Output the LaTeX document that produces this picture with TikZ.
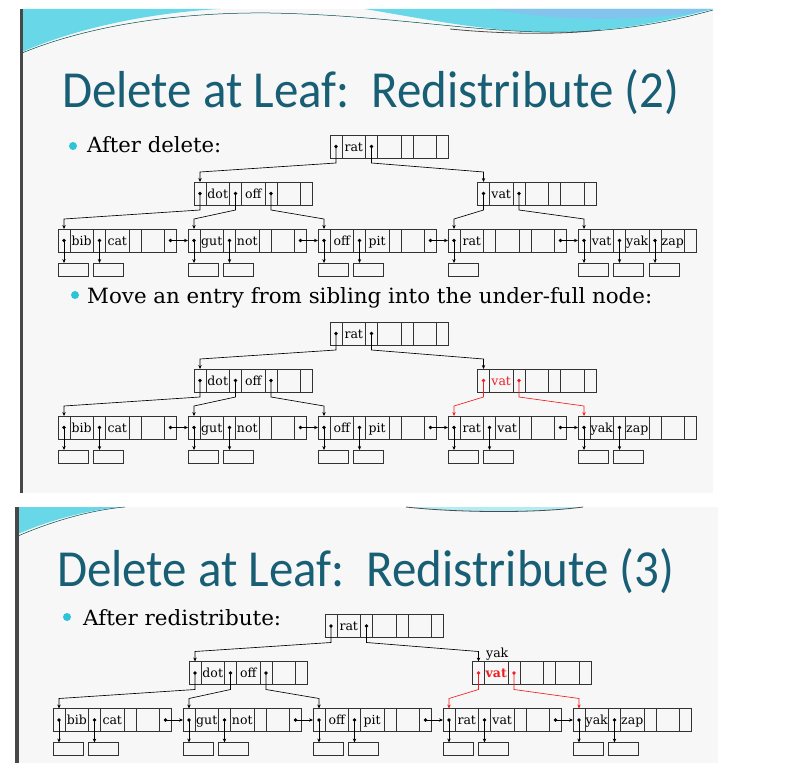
\documentclass[tikz,border=0pt]{standalone}
\usepackage{fontspec}
\usepackage{graphicx}
\newfontfamily\titlefont{Carlito}
\newfontfamily\textserif{DejaVu Serif}
\usetikzlibrary{calc,arrows.meta}
\definecolor{titleteal}{RGB}{24,94,117}
\definecolor{bulletcyan}{RGB}{44,196,214}
\definecolor{slidebg}{RGB}{247,247,247}
\definecolor{wavecyan}{RGB}{104,216,232}
\definecolor{waveblue}{RGB}{130,196,238}
\definecolor{borderdark}{RGB}{72,72,72}
\definecolor{ptrred}{RGB}{240,30,30}
\newcommand\fitto[2]{\resizebox{#1}{\height}{#2}}
\tikzset{
  bpbox/.style={draw=black!80, line width=0.7pt, minimum width=118.5pt, minimum height=23pt, inner sep=0pt, outer sep=0pt, anchor=north west},
  cellline/.style={draw=black!80, line width=0.7pt},
  recbox/.style={draw=black!80, line width=0.7pt, minimum width=30pt, minimum height=13pt, inner sep=0pt, outer sep=0pt, anchor=north west},
  keytext/.style={font=\textserif\fontsize{12.5}{12.5}\selectfont, inner sep=0pt, anchor=base},
  ptrline/.style={line width=0.65pt, -{Stealth[length=4pt,width=3.4pt]}},
  bullettext/.style={font=\textserif\fontsize{21}{21}\selectfont, inner sep=0pt, anchor=base west},
  titletext/.style={text=titleteal, inner sep=0pt, anchor=base west},
}
\newcommand\bpnode[6]{%
  \pgfmathsetmacro\bpX{#2}\pgfmathsetmacro\bpY{#3}%
  \node[bpbox] (#1) at (\bpX,\bpY) {};
  \foreach \d in {12,35.5,47.5,71,83,106.5}
    \draw[cellline] (\bpX+\d,\bpY) -- (\bpX+\d,\bpY+23);
  \coordinate (#1-p0) at (\bpX+6,\bpY+11.5);
  \coordinate (#1-p1) at (\bpX+41.5,\bpY+11.5);
  \coordinate (#1-p2) at (\bpX+77,\bpY+11.5);
  \coordinate (#1-p3) at (\bpX+112.5,\bpY+11.5);
  \node[keytext] (#1-k1) at (\bpX+23.75,\bpY+16) {#4};
  \node[keytext] (#1-k2) at (\bpX+59.25,\bpY+16) {#5};
  \node[keytext] (#1-k3) at (\bpX+94.75,\bpY+16) {#6};
}
\newcommand\iptr[4][black]{%
  \fill[#1] (#2) circle (1.8pt);
  \draw[ptrline,#1] (#2) -- ($(#2 |- #3.south)+(0,5)$) -- ($(#4-p0 |- #4.north)+(0,-10)$) -- (#4-p0 |- #4.north);
}
\newcommand\recs[2]{%
  \foreach \i in {0,...,#2}{%
    \pgfmathsetmacro\rx{35.5*\i}
    \node[recbox] (#1-rec\i) at ($(#1.north west)+(\rx,34)$) {};
    \fill (#1-p\i) circle (1.8pt);
    \draw[ptrline] (#1-p\i) -- (#1-p\i |- #1-rec\i.north);
  }%
}
\newcommand\nextptr[2]{\fill (#1-p3) circle (1.8pt); \draw[ptrline] (#1-p3) -- (#2.west);}
\newcommand\treebase[3]{%
  \bpnode{#1r}{#2+330}{#3+135}{rat}{}{}
  \bpnode{#1d}{#2+194}{#3+182}{dot}{off}{}
  \bpnode{#1l1}{#2+58}{#3+229}{bib}{cat}{}
  \bpnode{#1l2}{#2+188}{#3+229}{gut}{not}{}
  \bpnode{#1l3}{#2+318}{#3+229}{off}{pit}{}
  \iptr{#1r-p0}{#1r}{#1d}
  \iptr{#1d-p0}{#1d}{#1l1}
  \iptr{#1d-p1}{#1d}{#1l2}
  \iptr{#1d-p2}{#1d}{#1l3}
  \recs{#1l1}{1}
  \recs{#1l2}{1}
  \recs{#1l3}{1}
  \nextptr{#1l1}{#1l2}
  \nextptr{#1l2}{#1l3}
}
\begin{document}
\begin{tikzpicture}[x=1pt,y=-1pt]
\useasboundingbox (0,0) rectangle (812,776);
\fill[white] (0,0) rectangle (812,776);
% slide 1
\fill[slidebg] (22,9) rectangle (713,493);
\fill[wavecyan] (22,9) -- (22,52) .. controls (60,35) and (130,14) .. (220,9) -- cycle;
\fill[wavecyan] (365,9) .. controls (430,20) and (490,32) .. (550,32) .. controls (620,32) and (670,20) .. (713,9) -- cycle;
\fill[waveblue] (490,9) .. controls (560,22) and (650,22) .. (713,9) -- cycle;
\draw[teal!60!black, line width=0.5pt] (22,53) .. controls (90,25) and (180,12) .. (270,13) .. controls (380,15) and (460,30) .. (540,32) .. controls (610,34) and (670,22) .. (713,10);
\draw[black!70, line width=0.8pt] (450,29) .. controls (500,34) and (560,35) .. (600,30);
\fill[borderdark] (19.5,9) rectangle (23,493);
% slide 2
\fill[slidebg] (18,507) rectangle (718,763);
\fill[wavecyan] (18,507) -- (18,534) .. controls (45,522) and (85,510) .. (122,507) -- cycle;
\draw[teal!60!black, line width=0.5pt] (18,536) .. controls (50,522) and (90,510) .. (125,507);
\fill[wavecyan!50] (406,507) .. controls (450,512) and (530,514) .. (583,507) -- cycle;
\draw[black!70, line width=0.8pt] (406,507) .. controls (450,512) and (530,514) .. (583,507);
\fill[borderdark] (15,507) rectangle (18.5,763);
% titles and bullets
\node[titletext] (t1) at (62,107) {\fitto{617pt}{\titlefont\fontsize{52}{52}\selectfont Delete at Leaf:\ \ Redistribute (2)}};
\node[titletext] (t2) at (57,586) {\fitto{617pt}{\titlefont\fontsize{52}{52}\selectfont Delete at Leaf:\ \ Redistribute (3)}};
\fill[bulletcyan] (73,146) circle (4);
\fill[bulletcyan] (75,295) circle (4);
\fill[bulletcyan] (67,617) circle (4);
\node[bullettext] (b1) at (87,153) {\fitto{134pt}{After delete:}};
\node[bullettext] (b2) at (87,303) {\fitto{565pt}{Move an entry from sibling into the under-full node:}};
\node[bullettext] (b3) at (83,625) {\fitto{198pt}{After redistribute:}};
% tree 1
\treebase{a}{0}{0}
\bpnode{av}{477.5}{182}{vat}{}{}
\iptr{ar-p1}{ar}{av}
\bpnode{al4}{448}{229}{rat}{}{}
\bpnode{al5}{578}{229}{vat}{yak}{zap}
\iptr{av-p0}{av}{al4}
\iptr{av-p1}{av}{al5}
\recs{al4}{0}
\recs{al5}{2}
\nextptr{al3}{al4}
\nextptr{al4}{al5}
% tree 2
\treebase{b}{0}{187}
\bpnode{bv}{477.5}{369}{\color{ptrred}vat}{}{}
\iptr{br-p1}{br}{bv}
\bpnode{bl4}{448}{416}{rat}{vat}{}
\bpnode{bl5}{578}{416}{yak}{zap}{}
\iptr[ptrred]{bv-p0}{bv}{bl4}
\iptr[ptrred]{bv-p1}{bv}{bl5}
\recs{bl4}{1}
\recs{bl5}{1}
\nextptr{bl3}{bl4}
\nextptr{bl4}{bl5}
% tree 3
\treebase{c}{-5}{479.5}
\bpnode{cv}{472.5}{661.5}{\color{ptrred}\bfseries vat}{}{}
\iptr{cr-p1}{cr}{cv}
\bpnode{cl4}{443}{708.5}{rat}{vat}{}
\bpnode{cl5}{573}{708.5}{yak}{zap}{}
\iptr[ptrred]{cv-p0}{cv}{cl4}
\iptr[ptrred]{cv-p1}{cv}{cl5}
\recs{cl4}{1}
\recs{cl5}{1}
\nextptr{cl3}{cl4}
\nextptr{cl4}{cl5}
\node[keytext, anchor=base west] (cyak) at (486,657) {yak};
\end{tikzpicture}
\end{document}
